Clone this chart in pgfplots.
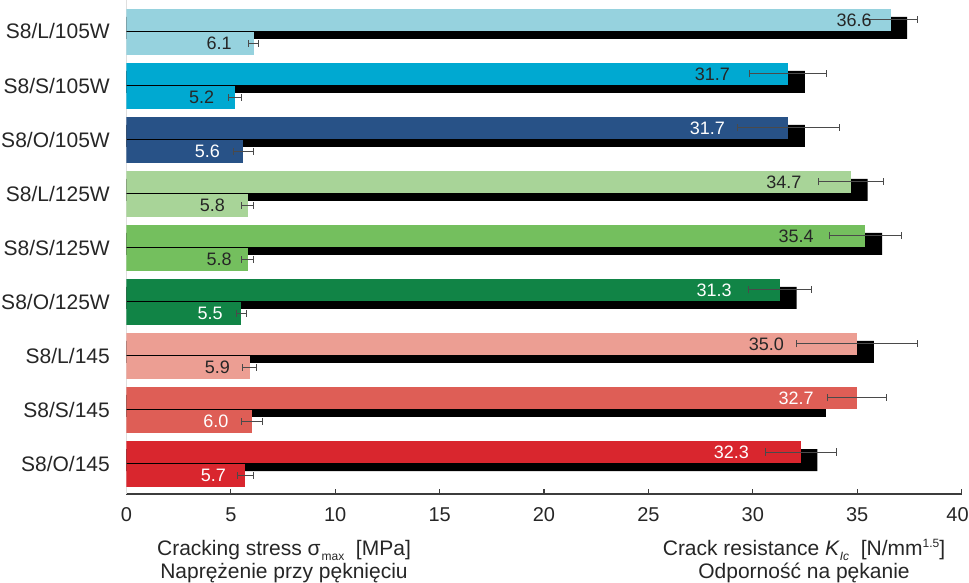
\documentclass[border=0pt]{standalone}
\usepackage{fontspec}
\setmainfont{Liberation Sans}
\usepackage{pgfplots}
\pgfplotsset{compat=1.18}

\definecolor{cA}{HTML}{96D2DE}
\definecolor{cB}{HTML}{00A9D1}
\definecolor{cC}{HTML}{285287}
\definecolor{cD}{HTML}{A8D498}
\definecolor{cE}{HTML}{74BF5E}
\definecolor{cF}{HTML}{118446}
\definecolor{cG}{HTML}{EC9E93}
\definecolor{cH}{HTML}{DE5E56}
\definecolor{cI}{HTML}{D9262E}
\definecolor{txt}{HTML}{262626}
\definecolor{axgray}{HTML}{3C3C3C}
\definecolor{errgray}{HTML}{4A4A4A}

\newcommand{\cat}{\fontsize{21bp}{25bp}\selectfont}
\newcommand{\lab}{\fontsize{18bp}{22bp}\selectfont}
\newcommand{\tck}{\fontsize{20bp}{24bp}\selectfont}
\newcommand{\subsz}{\fontsize{12bp}{12bp}\selectfont}

\pgfplotsset{
  bars/.style={xbar, bar width=#1, bar shift=0pt, draw=none},
  errs/.style={
    error bars/x dir=both, error bars/x explicit,
    error bars/error bar style={line width=1bp, color=errgray},
    error bars/error mark options={line width=1bp, color=errgray, mark size=3.5bp, rotate=90}},
  labels/.style={only marks, mark=none, nodes near coords,
    point meta=explicit symbolic,
    every node near coord/.append style={anchor=east, inner sep=0pt, font=\lab, text=#1}},
}

\begin{document}
\begin{tikzpicture}
\begin{axis}[
  scale only axis, width=835bp, height=494bp,
  xmin=0, xmax=40, ymin=0, ymax=494,
  axis x line*=bottom, axis y line*=left,
  y axis line style={color=gray!25, line width=0.8bp},
  x axis line style={color=axgray, line width=1.2bp},
  xtick={0,5,...,40},
  xticklabels={0,5,10,15,20,25,30,35,\kern-8bp 40},
  xtick align=inside,
  major tick length=5bp,
  major x tick style={color=axgray, line width=1.2bp},
  major y tick style={draw=none},
  xticklabel style={font=\tck, text=txt, inner sep=0pt, yshift=-13.7bp},
  ytick={462.5,408.5,354.5,300.5,246.5,192.5,138.5,84.5,30.5},
  yticklabels={S8/L/105W,S8/S/105W,S8/O/105W,S8/L/125W,S8/S/125W,S8/O/125W,S8/L/145,S8/S/145,S8/O/145},
  yticklabel style={font=\cat, text=txt, inner sep=0pt, anchor=east, xshift=-16.5bp},
]
% black offset bars behind the crack resistance bars
\addplot[bars=22, fill=black] coordinates {
  (37.4,466) (32.5,412) (32.5,358) (35.5,304) (36.2,250)
  (32.1,196) (35.8,142) (33.5,88) (33.1,34)};

% crack resistance K_Ic
\addplot[bars=22, fill=cA, errs] coordinates {(36.6,474) +- (1.3,0)};
\addplot[bars=22, fill=cB, errs] coordinates {(31.7,420) +- (1.85,0)};
\addplot[bars=22, fill=cC, errs] coordinates {(31.7,366) +- (2.45,0)};
\addplot[bars=22, fill=cD, errs] coordinates {(34.7,312) +- (1.57,0)};
\addplot[bars=22, fill=cE, errs] coordinates {(35.4,258) +- (1.74,0)};
\addplot[bars=22, fill=cF, errs] coordinates {(31.3,204) +- (1.5,0)};
\addplot[bars=22, fill=cG, errs] coordinates {(35.0,150) +- (2.9,0)};
\addplot[bars=22, fill=cH, errs] coordinates {(35.0,96) +- (1.4,0)};
\addplot[bars=22, fill=cI, errs] coordinates {(32.3,42) +- (1.7,0)};

% cracking stress sigma_max
\addplot[bars=23, fill=cA, errs] coordinates {(6.1,450.5) +- (0.24,0)};
\addplot[bars=23, fill=cB, errs] coordinates {(5.2,396.5) +- (0.3,0)};
\addplot[bars=23, fill=cC, errs] coordinates {(5.6,342.5) +- (0.47,0)};
\addplot[bars=23, fill=cD, errs] coordinates {(5.8,288.5) +- (0.3,0)};
\addplot[bars=23, fill=cE, errs] coordinates {(5.8,234.5) +- (0.3,0)};
\addplot[bars=23, fill=cF, errs] coordinates {(5.5,180.5) +- (0.24,0)};
\addplot[bars=23, fill=cG, errs] coordinates {(5.9,126.5) +- (0.35,0)};
\addplot[bars=23, fill=cH, errs] coordinates {(6.0,72.5) +- (0.5,0)};
\addplot[bars=23, fill=cI, errs] coordinates {(5.7,18.5) +- (0.4,0)};

% value labels
\addplot[labels=txt] coordinates {
  (35.71,474) [36.6] (28.91,420) [31.7] (32.34,312) [34.7]
  (32.93,258) [35.4] (31.50,150) [35.0]
  (5.05,450.5) [6.1] (4.21,396.5) [5.2] (4.72,288.5) [5.8]
  (5.05,234.5) [5.8] (4.96,126.5) [5.9]};
\addplot[labels=white] coordinates {
  (28.67,366) [31.7] (29.00,204) [31.3] (32.93,96) [32.7] (29.82,42) [32.3]
  (4.48,342.5) [5.6] (4.62,180.5) [5.5] (4.89,72.5) [6.0] (4.77,18.5) [5.7]};
\end{axis}

\node[anchor=base, inner sep=0pt, font=\cat, text=txt] at (157.5bp,-61bp)
  {Cracking stress σ\kern1bp\raisebox{-5bp}{\subsz max}\ \ [MPa]};
\node[anchor=base, inner sep=0pt, font=\cat, text=txt] at (157.5bp,-84bp)
  {Naprężenie przy pęknięciu};
\node[anchor=base, inner sep=0pt, font=\cat, text=txt] at (677.5bp,-61bp)
  {Crack resistance \textit{K}\raisebox{-5bp}{\subsz\itshape Ic}\ \ [N/mm\raisebox{8bp}{\subsz 1.5}]};
\node[anchor=base, inner sep=0pt, font=\cat, text=txt] at (677.5bp,-84bp)
  {Odporność na pękanie};

\pgfresetboundingbox
\useasboundingbox (-126.5bp,-89bp) rectangle (842.5bp,494bp);
\end{tikzpicture}
\end{document}
